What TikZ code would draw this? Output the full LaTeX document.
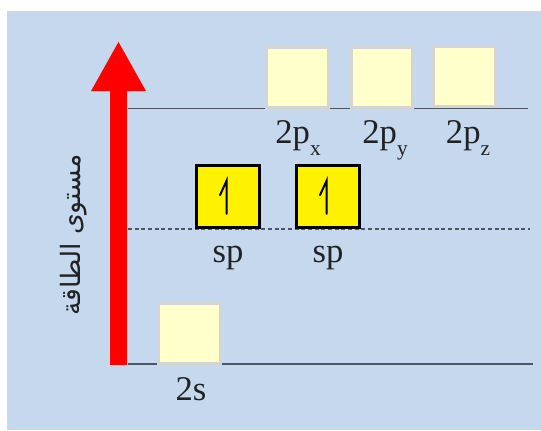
\documentclass[tikz,border=0pt]{standalone}
\usepackage{fontspec}
\setmainfont{Liberation Serif}
\newfontfamily\arabicfont[Script=Arabic]{DejaVu Sans}
\TeXXeTstate=1
\usetikzlibrary{positioning,arrows.meta}

\definecolor{panel}{RGB}{197,216,238}
\definecolor{paleorb}{RGB}{255,255,204}
\definecolor{paleedge}{RGB}{212,212,212}
\definecolor{levelline}{RGB}{78,86,96}
\definecolor{ink}{RGB}{34,34,34}

\newcommand{\orbsub}[1]{\raisebox{-9pt}{\fontsize{16}{16}\selectfont #1}}

\begin{document}
\begin{tikzpicture}[
    x=0.75pt, y=-0.75pt,
    empty/.style={draw=paleedge, fill=paleorb, line width=2.25pt, minimum width=46pt, minimum height=45pt, inner sep=0pt},
    half/.style={draw=black, fill=yellow, line width=2.25pt, minimum width=47pt, minimum height=46pt, inner sep=0pt},
    level/.style={draw=levelline, line width=1.4pt},
    hybrid/.style={draw=levelline, line width=1.1pt, dash pattern=on 3pt off 2pt},
    lbl/.style={font=\fontsize{26}{28}\selectfont, text=ink, inner sep=0pt},
    spin/.style={line width=1.5pt, line cap=round},
    energy/.style={draw=red, line width=12.75pt, -{Triangle[length=37.5pt, width=38.25pt]}},
]
\useasboundingbox (0,0) rectangle (541,430);
\fill[panel] (7,11) rectangle (541,430);

% Energy axis
\coordinate (ebase) at (118.5,365);
\coordinate (etop) at (118.5,41);
\draw[energy] (ebase) -- (etop);
\node[rotate=90, font=\arabicfont\fontsize{20}{22}\selectfont, text=ink] (axis) at (74,235) {\beginR مستوى الطاقة\endR};

% Levels
\draw[level] (128,108.5) -- (528,108.5);
\draw[hybrid] (128,229) -- (530,229);
\draw[level] (128,364) -- (533,364);

% 2p orbitals
\node[empty] (px) at (297.5,77) {};
\node[empty] (py) at (382,77) {};
\node[empty] (pz) at (464.5,76) {};

% sp orbitals
\node[half] (sp1) at (228,196.5) {};
\node[half] (sp2) at (328,196.5) {};
\draw[spin] ([xshift=-1pt,yshift=-13pt]sp1.center) -- ++(0,25pt) -- ++(-5pt,-11pt);
\draw[spin] ([xshift=-1pt,yshift=-13pt]sp2.center) -- ++(0,25pt) -- ++(-5pt,-11pt);

% 2s orbital
\node[empty] (s) at (189.5,333) {};

% Labels
\node[lbl, anchor=base] (lpx) at (298,143) {2p\orbsub{x}};
\node[lbl, anchor=base] (lpy) at (385,143) {2p\orbsub{y}};
\node[lbl, anchor=base] (lpz) at (468,143) {2p\orbsub{z}};
\node[lbl, anchor=base] (lsp1) at (228,262) {sp};
\node[lbl, anchor=base] (lsp2) at (328,262) {sp};
\node[lbl, anchor=base] (ls) at (191,400) {2s};

\end{tikzpicture}
\end{document}
